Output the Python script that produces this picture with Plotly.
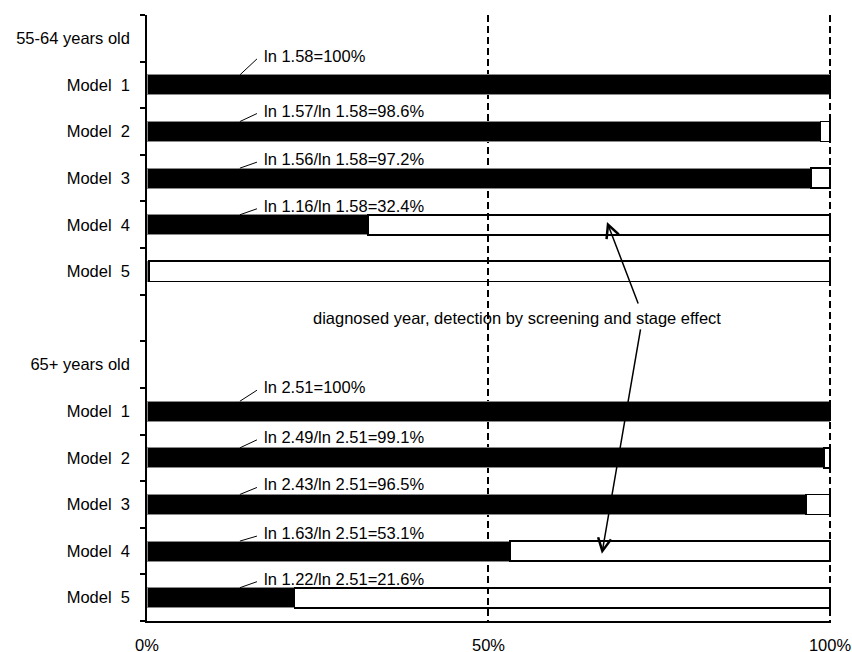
import plotly.graph_objects as go

# ---- data ----
categories = ["55-64 years old", "Model\u00a0 1", "Model\u00a0 2", "Model\u00a0 3", "Model\u00a0 4", "Model\u00a0 5",
              "", "65+ years old", "Model\u00a0 1", "Model\u00a0 2", "Model\u00a0 3", "Model\u00a0 4", "Model\u00a0 5"]
share = [None, 100, 98.6, 97.2, 32.4, 0.3, None, None, 100, 99.1, 96.5, 53.1, 21.6]
remainder = [None if v is None else round(100 - v, 1) for v in share]
label_rows = [1, 2, 3, 4, 8, 9, 10, 11, 12]
label_texts = ["ln 1.58=100%", "ln 1.57/ln 1.58=98.6%", "ln 1.56/ln 1.58=97.2%", "ln 1.16/ln 1.58=32.4%",
               "ln 2.51=100%", "ln 2.49/ln 2.51=99.1%", "ln 2.43/ln 2.51=96.5%", "ln 1.63/ln 2.51=53.1%",
               "ln 1.22/ln 2.51=21.6%"]
note_text = "diagnosed year, detection by screening and stage effect"
x_ticks = [0, 50, 100]
x_ticktext = ["0%", "50%", "100%"]

# ---- layout constants ----
FONT = "Liberation Sans, Arial, sans-serif"
U = 606 / 13.0            # pixels per category row
label_lift = [29, 21, 19, 19, 24, 21, 20, 18, 19]   # label centre above bar centre (px)

idx = list(range(len(categories)))

fig = go.Figure()
fig.add_trace(go.Bar(y=idx, x=share, orientation="h", width=0.43,
                     marker=dict(color="black", line=dict(color="#8a8a8a", width=1)),
                     hoverinfo="skip"))
fig.add_trace(go.Bar(y=idx, x=remainder, orientation="h", width=0.43,
                     marker=dict(color="rgba(255,255,255,0)", line=dict(color="black", width=1.8)),
                     hoverinfo="skip"))

annotations = []
shapes = []
for r, t, lift in zip(label_rows, label_texts, label_lift):
    yc = r - lift / U
    annotations.append(dict(x=16.9, y=yc, xref="x", yref="y", text=t, showarrow=False,
                            xanchor="left", yanchor="middle",
                            font=dict(family=FONT, size=16.5, color="black")))
    shapes.append(dict(type="line", xref="x", yref="y",
                       x0=13.6, y0=r - 10 / U, x1=16.1, y1=yc + 3 / U,
                       line=dict(color="black", width=1)))

annotations.append(dict(x=54.2, y=6, xref="x", yref="y", text=note_text, showarrow=False,
                        xanchor="center", yanchor="middle",
                        font=dict(family=FONT, size=16.5, color="black")))
# arrows
for (hx, hy, tx, ty) in [(67.35, 3.94, 72.0, 5.72), (66.6, 11.06, 72.3, 6.21)]:
    annotations.append(dict(x=hx, y=hy, ax=tx, ay=ty, xref="x", yref="y", axref="x", ayref="y",
                            text="", showarrow=True, arrowhead=5, arrowsize=1.7, arrowwidth=1.5,
                            arrowcolor="black", standoff=0, startstandoff=0))

fig.update_layout(
    width=852, height=652,
    margin=dict(l=147, r=21, t=15, b=31, autoexpand=False),
    barmode="stack", showlegend=False,
    paper_bgcolor="white", plot_bgcolor="white",
    font=dict(family=FONT, size=16.5, color="black"),
    annotations=annotations, shapes=shapes,
    xaxis=dict(range=[0, 100.15], tickmode="array", tickvals=x_ticks, ticktext=x_ticktext,
               showgrid=True, gridcolor="black", gridwidth=1.5, griddash="7px,4px",
               zeroline=False, showline=True, linecolor="black", linewidth=2,
               ticks="", ticklabelstandoff=8, tickfont=dict(size=16.5), automargin=False),
    yaxis=dict(range=[12.5, -0.5], tickmode="array", tickvals=idx, ticktext=categories,
               showgrid=False, zeroline=False, showline=True, linecolor="black", linewidth=1.5,
               ticks="", ticklabelstandoff=12, tickfont=dict(size=16.5), automargin=False,
               minor=dict(tickmode="array", tickvals=[i - 0.5 for i in range(14)], ticks="outside",
                          ticklen=5, tickwidth=2, tickcolor="black", showgrid=False)),
)

fig.write_html("out.html")
